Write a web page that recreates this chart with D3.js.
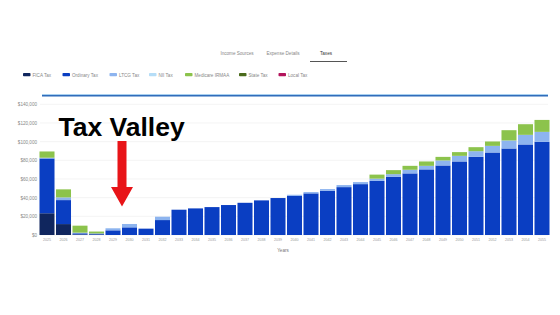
<!DOCTYPE html>
<html>
<head>
<meta charset="utf-8">
<script src="https://cdn.jsdelivr.net/npm/d3@7"></script>
<style>
  body { margin: 0; background: #fff; }
  svg { display: block; font-family: "Liberation Sans", Arial, sans-serif; }
</style>
</head>
<body>
<div id="vis"></div>
<script>
const W = 560, H = 315;

// Data
const years = d3.range(2025, 2056).map(String);
const fica     = [23300, 11700, 600, 500, 0, 0, 0, 0, 0, 0, 0, 0, 0, 0, 0, 0, 0, 0, 0, 0, 0, 0, 0, 0, 0, 0, 0, 0, 0, 0, 0];
const ordinary = [58700, 25700, 1200, 900, 5000, 8200, 6800, 16000, 27100, 28500, 29900, 32100, 34500, 37100, 39600, 42000, 44600, 47400, 51300, 54500, 58000, 62400, 66000, 70300, 74500, 78800, 83700, 88400, 92700, 97000, 99800];
const ltcg     = [800, 2900, 700, 300, 2200, 3600, 0, 3600, 0, 0, 0, 0, 0, 0, 0, 1100, 1400, 1800, 2200, 2200, 2400, 2800, 3900, 3800, 5400, 6000, 6100, 7100, 8600, 10300, 10700];
const nii      = new Array(31).fill(0);
const irmaa    = [6700, 8600, 7500, 2000, 0, 0, 0, 0, 0, 0, 0, 0, 0, 0, 0, 0, 0, 0, 0, 0, 4300, 4300, 4200, 4700, 3800, 4000, 4300, 4700, 11000, 11400, 12800];
const stateTax = new Array(31).fill(0);
const localTax = new Array(31).fill(0);

const seriesNames = ["FICA Tax", "Ordinary Tax", "LTCG Tax", "NII Tax", "Medicare IRMAA", "State Tax", "Local Tax"];
const seriesColors = ["#10265e", "#0a3ec2", "#8db4ef", "#b5ddf7", "#8cc34c", "#4b6b1c", "#b3145c"];
const seriesValues = [fica, ordinary, ltcg, nii, irmaa, stateTax, localTax];
const yTicks = [0, 20000, 40000, 60000, 80000, 100000, 120000, 140000];
const tabs = ["Income Sources", "Expense Details", "Taxes"];

const rows = years.map((y, i) => {
  const r = { year: y };
  seriesNames.forEach((n, k) => r[n] = seriesValues[k][i]);
  return r;
});

const svg = d3.select("#vis").append("svg").attr("width", W).attr("height", H);

// Tabs
const tabX = [237, 283, 326];
svg.selectAll(".tab").data(tabs).join("text")
  .attr("x", (d, i) => tabX[i]).attr("y", 55)
  .attr("text-anchor", "middle")
  .attr("font-size", 4.6)
  .attr("fill", (d, i) => i === 2 ? "#333" : "#888")
  .text(d => d);
svg.append("line").attr("x1", 310).attr("x2", 347).attr("y1", 61.5).attr("y2", 61.5)
  .attr("stroke", "#555").attr("stroke-width", 1.2);

// Legend
const legX = [23, 62.5, 109.5, 149, 185, 239, 278.5];
const leg = svg.selectAll(".leg").data(seriesNames).join("g")
  .attr("transform", (d, i) => `translate(${legX[i]},75)`);
leg.append("rect").attr("x", 0).attr("y", -2).attr("width", 7.5).attr("height", 3.2)
  .attr("rx", 0.8).attr("fill", (d, i) => seriesColors[i]);
leg.append("text").attr("x", 9.5).attr("y", 1.6).attr("font-size", 4.6).attr("fill", "#888").text(d => d);

// Scales
const x = d3.scaleBand().domain(years).range([38.75, 550.25]).paddingInner(0.09).paddingOuter(0.045);
const y = d3.scaleLinear().domain([0, 150000]).range([235, 95]);

// Grid
svg.append("g").selectAll("line").data(yTicks).join("line")
  .attr("x1", 40).attr("x2", 548)
  .attr("y1", d => y(d)).attr("y2", d => y(d))
  .attr("stroke", "#ececec").attr("stroke-width", 0.6);

// Y axis labels
const yAxis = svg.append("g").attr("transform", "translate(37,0)")
  .call(d3.axisLeft(y).tickValues(yTicks).tickSize(0).tickPadding(0)
    .tickFormat(d => "$" + d3.format(",")(d)));
yAxis.select(".domain").remove();
yAxis.selectAll("text").attr("font-size", 4.6).attr("fill", "#888").attr("font-family", "Liberation Sans, Arial, sans-serif");

// Top line
svg.append("line").attr("x1", 42).attr("x2", 548).attr("y1", 95.6).attr("y2", 95.6)
  .attr("stroke", "#2b68b8").attr("stroke-width", 1.6);
svg.append("line").attr("x1", 42).attr("x2", 548).attr("y1", 94.6).attr("y2", 94.6)
  .attr("stroke", "#8ccaf2").attr("stroke-width", 0.6);

// Bars
const stack = d3.stack().keys(seriesNames)(rows);
svg.append("g").selectAll("g").data(stack).join("g")
  .attr("fill", (d, i) => seriesColors[i])
  .selectAll("rect").data(d => d).join("rect")
  .attr("x", d => x(d.data.year))
  .attr("width", x.bandwidth())
  .attr("y", d => y(d[1]))
  .attr("height", d => y(d[0]) - y(d[1]));

// X axis labels
const xAxis = svg.append("g").attr("transform", "translate(0,238)")
  .call(d3.axisBottom(x).tickSize(0).tickPadding(0));
xAxis.select(".domain").remove();
xAxis.selectAll("text").attr("font-size", 3.6).attr("fill", "#999").attr("dy", "0.7em")
  .attr("font-family", "Liberation Sans, Arial, sans-serif");

svg.append("text").attr("x", 283).attr("y", 252).attr("text-anchor", "middle")
  .attr("font-size", 4.6).attr("fill", "#777").text("Years");

// Annotation
svg.append("text").attr("x", 58.5).attr("y", 135.5)
  .attr("font-size", 26.5).attr("font-weight", "bold").attr("fill", "#000")
  .text("Tax Valley");

const ax = 122;
svg.append("path")
  .attr("d", `M${ax - 4.5},141 L${ax + 4.5},141 L${ax + 4.5},187 L${ax + 11},187 L${ax},206.5 L${ax - 11},187 L${ax - 4.5},187 Z`)
  .attr("fill", "#e81418");
</script>
</body>
</html>
